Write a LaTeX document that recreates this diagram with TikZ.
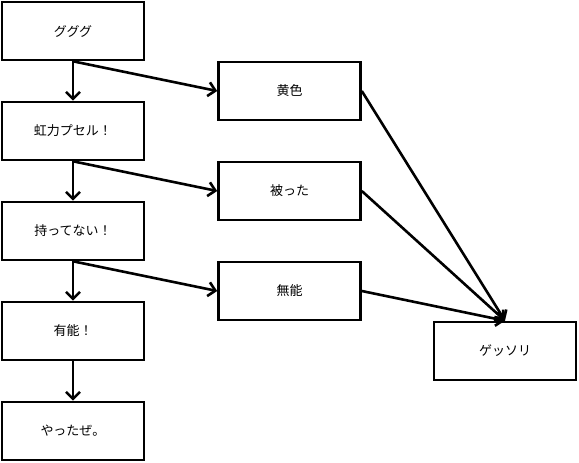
\documentclass[tikz,border=0pt]{standalone}
\usepackage{fontspec}
\setmainfont{Noto Sans CJK JP}
\usetikzlibrary{arrows.meta}
\begin{document}
\begin{tikzpicture}[x=1pt,y=-1pt,
  box/.style={draw,line width=2.6pt,rectangle,minimum width=142pt,minimum height=58pt,inner sep=0pt,font=\fontsize{13pt}{15pt}\selectfont},
  conn/.style={line width=2.6pt,-{Straight Barb[length=7pt,width=14pt,line width=2.6pt]}}]
\useasboundingbox (0,0) rectangle (579,463);
\node[box] (a) at (73,31) {グググ};
\node[box] (b) at (73,131) {虹力プセル！};
\node[box] (c) at (73,231) {持ってない！};
\node[box] (d) at (73,331) {有能！};
\node[box] (e) at (73,431) {やったぜ。};
\node[box] (f) at (289.5,91) {黄色};
\node[box] (g) at (289.5,191) {被った};
\node[box] (h) at (289.5,291) {無能};
\node[box] (k) at (505,351) {ゲッソリ};
\draw[conn] (a.south) -- (b.north);
\draw[conn] (b.south) -- (c.north);
\draw[conn] (c.south) -- (d.north);
\draw[conn] (d.south) -- (e.north);
\draw[conn] (a.south) -- (f.west);
\draw[conn] (b.south) -- (g.west);
\draw[conn] (c.south) -- (h.west);
\draw[conn] (f.east) -- (k.north);
\draw[conn] (g.east) -- (k.north);
\draw[conn] (h.east) -- (k.north);
\end{tikzpicture}
\end{document}
